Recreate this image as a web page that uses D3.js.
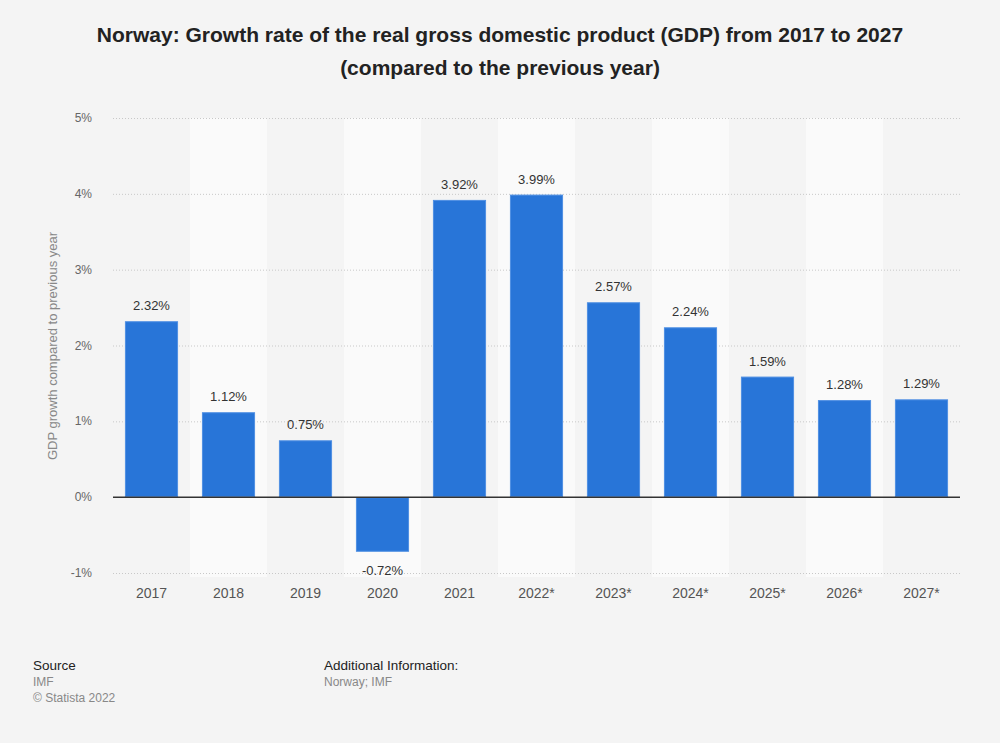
<!DOCTYPE html>
<html><head><meta charset="utf-8">
<script src="https://cdn.jsdelivr.net/npm/d3@7"></script>
<style>
body{margin:0;background:#f4f4f4;font-family:"Liberation Sans",Arial,sans-serif;}
svg{display:block}
</style></head><body>
<svg id="c" width="1000" height="743"></svg>
<script>
const categories = ["2017","2018","2019","2020","2021","2022*","2023*","2024*","2025*","2026*","2027*"];
const values = [2.32,1.12,0.75,-0.72,3.92,3.99,2.57,2.24,1.59,1.28,1.29];
const valueLabels = ["2.32%","1.12%","0.75%","-0.72%","3.92%","3.99%","2.57%","2.24%","1.59%","1.28%","1.29%"];
const yTicks = [-1,0,1,2,3,4,5];

const svg = d3.select("#c");
svg.append("rect").attr("width",1000).attr("height",743).attr("fill","#f4f4f4");

const x = d3.scaleBand().domain(categories).range([113,960]).paddingInner(0.31).paddingOuter(0.155);
const xb = d3.scaleBand().domain(categories).range([113,960]);
const y = d3.scaleLinear().domain([-1,5]).range([573,118]);

// alternating bands
svg.append("g").selectAll("rect").data(categories.filter((d,i)=>i%2===1)).join("rect")
  .attr("x",d=>xb(d)).attr("width",xb.bandwidth())
  .attr("y",y(5)).attr("height",y(-1)-y(5)+4).attr("fill","#fafafa");

// grid
svg.append("g").selectAll("line").data(yTicks.filter(t=>t!==0)).join("line")
  .attr("x1",113).attr("x2",960).attr("y1",d=>y(d)+0.5).attr("y2",d=>y(d)+0.5)
  .attr("stroke","#c8c8c8").attr("stroke-dasharray","1,2").attr("stroke-width",1);

// y tick labels
svg.append("g").selectAll("text").data(yTicks).join("text")
  .attr("x",92).attr("y",d=>y(d)+4).attr("text-anchor","end")
  .attr("font-size",12).attr("fill","#666").text(d=>d+"%");

// bars
svg.append("g").selectAll("rect").data(values).join("rect")
  .attr("x",(d,i)=>x(categories[i])+0.5).attr("width",x.bandwidth()-1)
  .attr("y",d=>y(Math.max(0,d))+0.5).attr("height",d=>Math.abs(y(d)-y(0))-1)
  .attr("fill","#2875d8").attr("stroke","#4f8fe3").attr("stroke-width",1);

// zero line
svg.append("line").attr("x1",113).attr("x2",960).attr("y1",y(0)).attr("y2",y(0))
  .attr("stroke","#333").attr("stroke-width",1.5);

// value labels
svg.append("g").selectAll("text").data(values).join("text")
  .attr("x",(d,i)=>x(categories[i])+x.bandwidth()/2)
  .attr("y",d=>d>=0? y(d)-11 : y(d)+23)
  .attr("text-anchor","middle").attr("font-size",13).attr("fill","#333")
  .text((d,i)=>valueLabels[i]);

// x labels
svg.append("g").selectAll("text").data(categories).join("text")
  .attr("x",d=>xb(d)+xb.bandwidth()/2).attr("y",598)
  .attr("text-anchor","middle").attr("font-size",14).attr("fill","#555").text(d=>d);

// y axis title
svg.append("text").attr("transform","translate(57,346) rotate(-90)")
  .attr("text-anchor","middle").attr("font-size",13).attr("fill","#888")
  .text("GDP growth compared to previous year");

// title
const title = svg.append("text").attr("text-anchor","middle").attr("font-size",21)
  .attr("font-weight","bold").attr("fill","#222");
title.append("tspan").attr("x",500).attr("y",42).text("Norway: Growth rate of the real gross domestic product (GDP) from 2017 to 2027");
title.append("tspan").attr("x",500).attr("y",75).text("(compared to the previous year)");

// footer
svg.append("text").attr("x",33).attr("y",670).attr("font-size",13.5).attr("fill","#222").text("Source");
svg.append("text").attr("x",33).attr("y",686).attr("font-size",12).attr("fill","#888").text("IMF");
svg.append("text").attr("x",33).attr("y",702).attr("font-size",12).attr("fill","#888").text("© Statista 2022");
svg.append("text").attr("x",324).attr("y",670).attr("font-size",13.5).attr("fill","#222").text("Additional Information:");
svg.append("text").attr("x",324).attr("y",686).attr("font-size",12).attr("fill","#888").text("Norway; IMF");
</script>
</body></html>
